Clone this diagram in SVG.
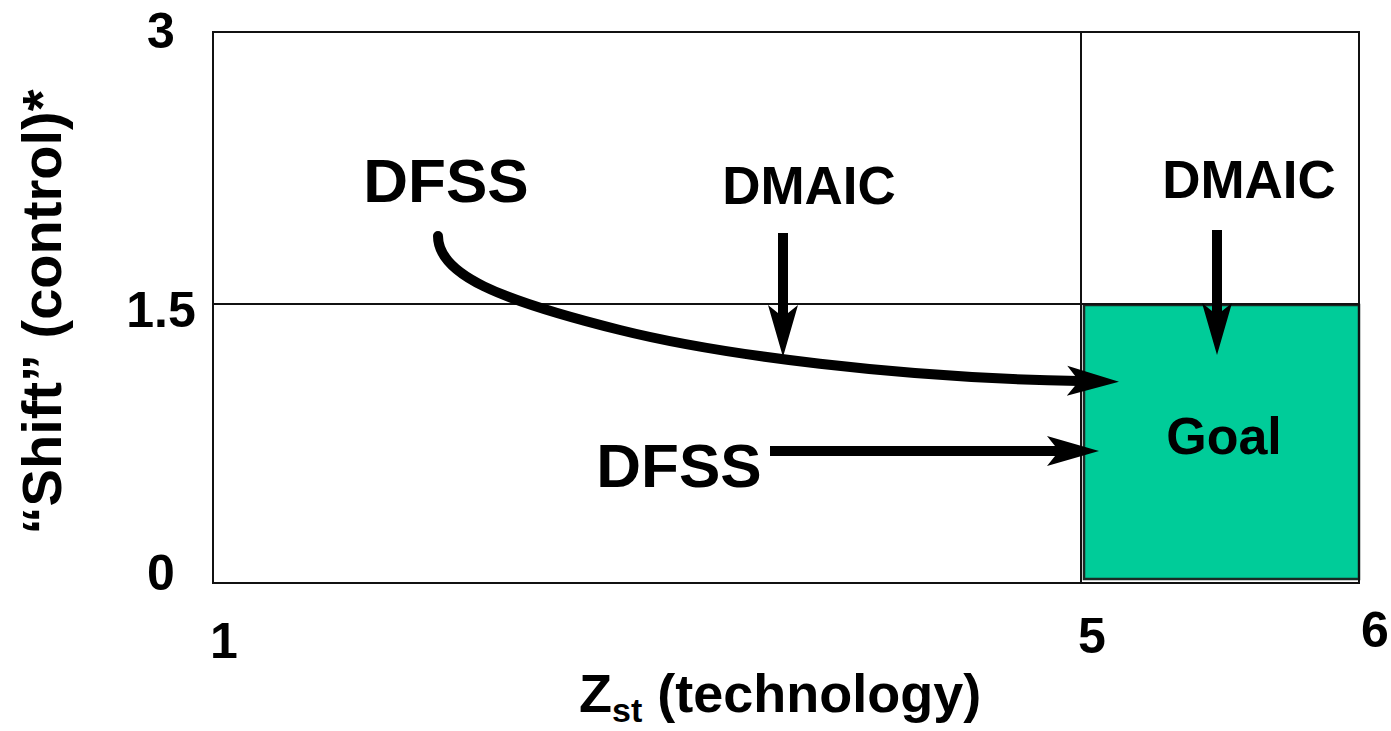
<svg xmlns="http://www.w3.org/2000/svg" width="1391" height="731" viewBox="0 0 1391 731">
  <style>
    .lbl { font-family: "Liberation Sans", Arial, sans-serif; font-weight: bold; fill: #000; }
    .tick { font-size: 50px; text-anchor: middle; }
    .big { font-size: 62px; text-anchor: middle; }
    .mid { font-size: 53px; text-anchor: middle; }
    .grid { stroke: #111; stroke-width: 2; fill: none; }
    .shaft { stroke: #000; stroke-width: 10; fill: none; }
  </style>
  <defs>
    <marker id="head" viewBox="-14 -16 56 32" refX="0" refY="0" markerWidth="56" markerHeight="32" markerUnits="userSpaceOnUse" orient="auto">
      <path d="M40,0 L-12,-15 L0,0 L-12,15 Z" fill="#000"/>
    </marker>
  </defs>

  <rect width="1391" height="731" fill="#fff"/>

  <!-- goal region -->
  <g id="goal">
    <rect x="1084" y="305" width="275" height="274" fill="#00cc99" stroke="#1b2a25" stroke-width="2.5"/>
    <text class="lbl" x="1224" y="454" font-size="52" text-anchor="middle">Goal</text>
  </g>

  <!-- plot frame and grid -->
  <g id="frame">
    <rect x="213" y="32" width="1146" height="551" class="grid"/>
    <line x1="213" y1="304" x2="1359" y2="304" class="grid"/>
    <line x1="1081" y1="32" x2="1081" y2="583" class="grid"/>
  </g>

  <!-- axis ticks and titles -->
  <g id="axes">
    <text class="lbl tick" x="161" y="48">3</text>
    <text class="lbl tick" x="161" y="327">1.5</text>
    <text class="lbl tick" x="161" y="590">0</text>
    <text class="lbl tick" x="224" y="658">1</text>
    <text class="lbl tick" x="1092" y="653">5</text>
    <text class="lbl tick" x="1375" y="647">6</text>
    <text class="lbl" font-size="54" x="579" y="712">Z<tspan font-size="34" dy="10">st</tspan><tspan dy="-10"> (technology)</tspan></text>
    <text class="lbl" font-size="56" text-anchor="middle" transform="translate(61,312) rotate(-90)">“Shift” (control)*</text>
  </g>

  <g id="dfss-top">
    <text class="lbl big" x="446" y="202">DFSS</text>
  </g>
  <g id="dfss-bottom">
    <text class="lbl big" x="679" y="487">DFSS</text>
  </g>
  <g id="dmaic-left">
    <text class="lbl mid" x="809" y="204">DMAIC</text>
  </g>
  <g id="dmaic-right">
    <text class="lbl mid" x="1249" y="198">DMAIC</text>
  </g>

  <!-- connectors -->
  <g id="connectors">
    <path class="shaft" stroke-linecap="round" d="M438,236 C438,275 500,300 620,330 C720,355 900,378 1079,381" marker-end="url(#head)"/>
    <path class="shaft" d="M783,233 L783,317" marker-end="url(#head)"/>
    <path class="shaft" d="M1217,230 L1217,315" marker-end="url(#head)"/>
    <path class="shaft" d="M770,451 L1059,451" marker-end="url(#head)"/>
  </g>
</svg>
